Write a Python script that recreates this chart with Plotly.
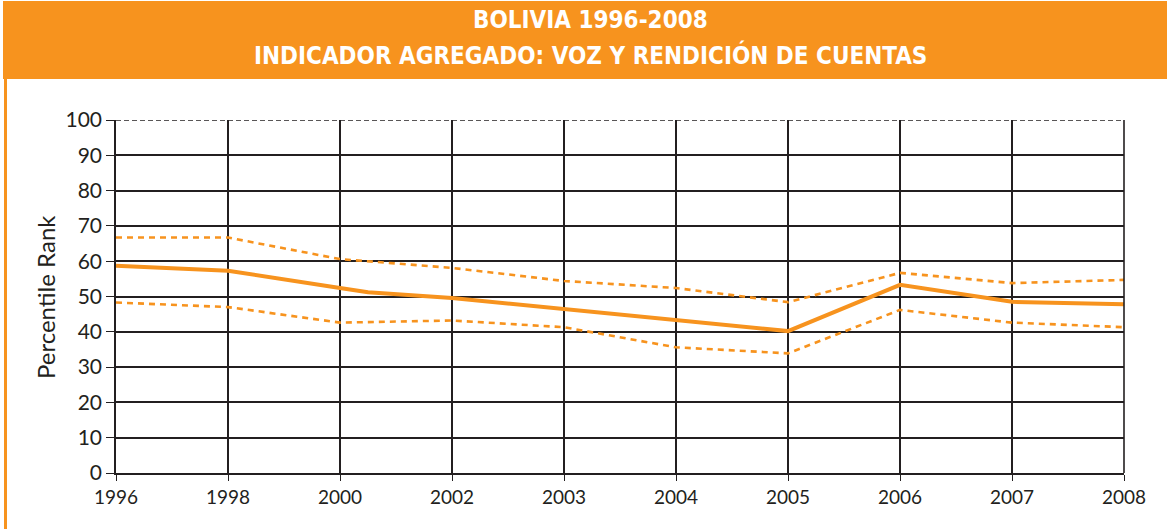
import plotly.graph_objects as go

years = ["1996", "1998", "2000", "2002", "2003", "2004", "2005", "2006", "2007", "2008"]
cat_pos = [0, 1, 2, 3, 4, 5, 6, 7, 8, 9]

# main estimate (with an intermediate vertex between 2000 and 2002)
main_x = [0, 1, 2, 2.25, 3, 4, 5, 6, 7, 8, 9]
main_y = [58.7, 57.3, 52.4, 51.2, 49.6, 46.5, 43.3, 40.2, 53.3, 48.5, 47.8]

upper_y = [66.7, 66.7, 60.6, 58.1, 54.4, 52.4, 48.4, 56.7, 53.8, 54.7]
lower_y = [48.3, 47.0, 42.6, 43.2, 41.3, 35.6, 33.9, 46.2, 42.6, 41.3]

y_ticks = [0, 10, 20, 30, 40, 50, 60, 70, 80, 90, 100]

ORANGE = "#F7931E"
DARK = "#231F20"

W, H = 1167, 529
L, R, T, B = 116, 43, 120, 56
pw, ph = W - L - R, H - T - B

def px(x):
    return (x - L) / pw

def py(y):
    return (H - B - y) / ph

fig = go.Figure()
fig.add_trace(go.Scatter(x=cat_pos, y=upper_y, mode="lines",
                         line=dict(color=ORANGE, width=2.6, dash="6px,5px"), showlegend=False))
fig.add_trace(go.Scatter(x=cat_pos, y=lower_y, mode="lines",
                         line=dict(color=ORANGE, width=2.6, dash="6px,5px"), showlegend=False))
fig.add_trace(go.Scatter(x=main_x, y=main_y, mode="lines",
                         line=dict(color=ORANGE, width=4), showlegend=False))

tick_font = dict(family="Lato, Open Sans, sans-serif", size=21, color=DARK)
title_font = dict(family="DejaVu Sans Condensed, DejaVu Sans, sans-serif", size=24, color="white")

fig.update_layout(
    width=W, height=H,
    margin=dict(l=L, r=R, t=T, b=B),
    paper_bgcolor="white", plot_bgcolor="white",
    xaxis=dict(
        range=[0, 9], tickmode="array", tickvals=cat_pos, ticktext=years,
        showgrid=True, gridcolor=DARK, gridwidth=1.6,
        showline=True, linecolor=DARK, linewidth=1.5, mirror=False,
        ticks="outside", ticklen=6, tickcolor=DARK, tickwidth=1.4,
        tickfont=dict(family="Lato, Open Sans, sans-serif", size=19, color=DARK),
        zeroline=False, fixedrange=True,
    ),
    yaxis=dict(
        range=[0, 100], tickmode="array", tickvals=y_ticks,
        showgrid=True, gridcolor=DARK, gridwidth=1.6,
        showline=True, linecolor=DARK, linewidth=1.5,
        ticks="outside", ticklen=8, tickcolor=DARK, tickwidth=1.4,
        tickfont=tick_font, zeroline=False, fixedrange=True,
    ),
    shapes=[
        dict(type="rect", xref="paper", yref="paper", x0=px(3), x1=px(W + 2), y0=py(79), y1=py(1),
             fillcolor=ORANGE, line=dict(width=0), layer="above"),
        dict(type="line", xref="paper", yref="paper", x0=px(5.5), x1=px(5.5), y0=py(79), y1=py(H + 2),
             line=dict(color=ORANGE, width=3)),
        dict(type="line", xref="paper", yref="paper", x0=1, x1=1, y0=0, y1=1,
             line=dict(color=DARK, width=1.6)),
        dict(type="line", xref="paper", yref="y", x0=0, x1=1, y0=y_ticks[-1], y1=y_ticks[-1],
             line=dict(color=DARK, width=1.3, dash="5px,3px")),
    ],
    annotations=[
        dict(text="<b>BOLIVIA 1996-2008</b>", xref="paper", yref="paper",
             x=px(590), y=py(20), xanchor="center", yanchor="middle", showarrow=False,
             font=title_font),
        dict(text="<b>INDICADOR AGREGADO: VOZ Y RENDICIÓN DE CUENTAS</b>", xref="paper", yref="paper",
             x=px(590), y=py(55), xanchor="center", yanchor="middle", showarrow=False,
             font=title_font),
        dict(text="Percentile Rank", xref="paper", yref="paper", x=px(45), y=py(297),
             xanchor="center", yanchor="middle", textangle=-90, showarrow=False,
             font=dict(family="Lato, Open Sans, sans-serif", size=24, color=DARK)),
    ],
)

fig.write_html("out.html", config={"displayModeBar": False},
               post_script="document.body.style.margin='0';document.body.style.padding='0';")
